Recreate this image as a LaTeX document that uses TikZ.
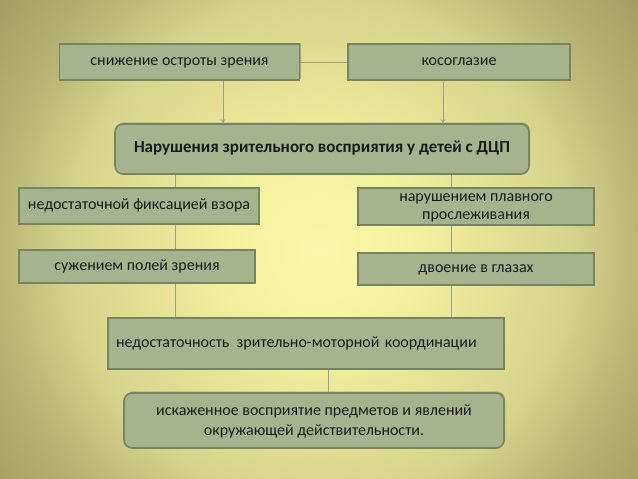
\documentclass[tikz,border=0pt]{standalone}
\usepackage{fontspec}
\setmainfont{Carlito}
\usetikzlibrary{arrows.meta,shadows}
\definecolor{bgA}{HTML}{FAF8A8}
\definecolor{bgB}{HTML}{F4F19E}
\definecolor{bgC}{HTML}{D6D38C}
\definecolor{bgD}{HTML}{B8B475}
\definecolor{bgE}{HTML}{A09B62}
\definecolor{boxfill}{HTML}{A5B38E}
\definecolor{boxline}{HTML}{76855F}
\definecolor{conn}{HTML}{98A088}
\definecolor{txt}{HTML}{1A1A1A}
\pgfdeclareradialshading{bgshade}{\pgfpoint{0bp}{0bp}}{color(0bp)=(bgA); color(5bp)=(bgB); color(14bp)=(bgC); color(18bp)=(bgD); color(23bp)=(bgE); color(50bp)=(bgE)}
\tikzset{
  box/.style={draw=boxline, line width=1.6pt, fill=boxfill, text=txt, inner sep=2pt,
    font=\fontsize{16}{18}\selectfont, align=center, text height=0.75em, text depth=0pt,
    drop shadow={shadow xshift=1pt, shadow yshift=1.5pt, opacity=0.25, fill=black}},
  mbox/.style={box, text height=, text depth=0pt},
  rbox/.style={box, rounded corners=8pt},
  conn/.style={draw=conn, line width=0.8pt},
  arr/.style={conn, -{To[length=4pt,width=5pt]}}
}
\begin{document}
\begin{tikzpicture}[x=1pt,y=-1pt]
\useasboundingbox (0,0) rectangle (638,479);
\begin{scope}
\clip (0,0) rectangle (638,479);
\shade[shading=bgshade] (-130,-200) rectangle (770,700);
\end{scope}
\coordinate (xa) at (223,0);
\coordinate (xb) at (443,0);
\coordinate (xl) at (175,0);
\coordinate (xr) at (451,0);
\coordinate (xm) at (328,0);
\node[box, minimum width=240pt, minimum height=36pt] (b1) at (179.5,62) {снижение остроты зрения};
\node[box, minimum width=222pt, minimum height=36pt] (b2) at (459,62) {косоглазие};
\node[rbox, minimum width=414pt, minimum height=50pt, font=\fontsize{17}{19}\selectfont\bfseries] (main) at (322,149) {Нарушения зрительного восприятия у детей с ДЦП};
\node[box, minimum width=240pt, minimum height=36pt] (l1) at (139,206) {недостаточной фиксацией взора};
\node[box, minimum width=236pt, minimum height=33pt] (l2) at (137,266.5) {сужением полей зрения};
\node[mbox, minimum width=236pt, minimum height=37pt, font=\fontsize{16}{17.5}\selectfont] (r1) at (476,206.5) {нарушением плавного\\прослеживания};
\node[box, minimum width=236pt, minimum height=32pt] (r2) at (476,269) {двоение в глазах};
\node[box, minimum width=396pt, minimum height=51pt, text width=380pt, align=left, inner sep=8pt] (m) at (306,343.5) {недостаточность\hspace{0.45em}зрительно-моторной координации};
\node[mbox, rounded corners=8pt, minimum width=380pt, minimum height=55pt, font=\fontsize{16}{20}\selectfont] (e) at (314,420.5) {искаженное восприятие предметов и явлений\\окружающей действительности.};
\draw[conn] (b1.east) -- (b2.west);
\draw[arr] (b1.south -| xa) -- (main.north -| xa);
\draw[arr] (b2.south -| xb) -- (main.north -| xb);
\draw[conn] (main.south -| xl) -- (l1.north -| xl);
\draw[conn] (l1.south -| xl) -- (l2.north -| xl);
\draw[conn] (l2.south -| xl) -- (m.north -| xl);
\draw[conn] (main.south -| xr) -- (r1.north -| xr);
\draw[conn] (r1.south -| xr) -- (r2.north -| xr);
\draw[conn] (r2.south -| xr) -- (m.north -| xr);
\draw[conn] (m.south -| xm) -- (e.north -| xm);
\end{tikzpicture}
\end{document}
